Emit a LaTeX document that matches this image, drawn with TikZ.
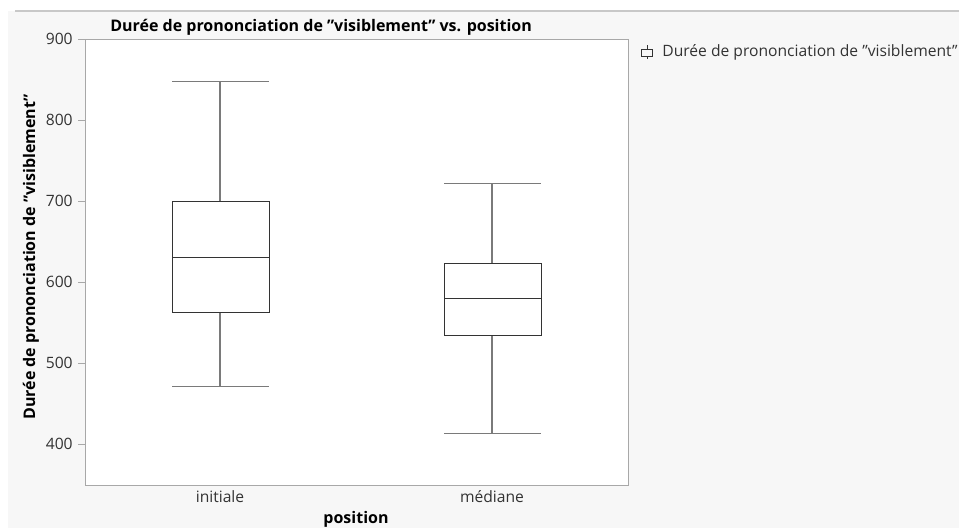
\documentclass[tikz,border=0pt]{standalone}
\usepackage{fontspec}
\setmainfont{Open Sans}
\usepackage{tikz}
\usetikzlibrary{positioning, calc}
\definecolor{panel}{HTML}{F7F7F7}
\definecolor{rulegray}{HTML}{C8C8C8}
\definecolor{framegray}{HTML}{A8A8A8}
\definecolor{whisk}{HTML}{7A7A7A}
\definecolor{inkgray}{HTML}{333333}
\newcommand{\qt}{\symbol{34}}

\begin{document}
\begin{tikzpicture}[
  x=0.02cm, y=-0.02cm,
  tick/.style={font=\fontsize{8.9}{10}\selectfont, text=inkgray, anchor=east, inner sep=0pt},
  cat/.style={font=\fontsize{8.9}{10}\selectfont, text=inkgray, inner sep=0pt},
  axlabel/.style={font=\bfseries\fontsize{9.1}{10}\selectfont, text=black, inner sep=0pt},
  whisker/.style={draw=whisk, line width=0.6pt},
  boxline/.style={draw=black!80, line width=0.5pt},
]

% page and panel
\useasboundingbox (0,0) rectangle (959,528);
\fill[panel] (8,11) rectangle (959,528);
\draw[rulegray, line width=0.6pt] (15,11) -- (959,11);

% plot frame
\filldraw[fill=white, draw=framegray, line width=0.5pt] (85,39) rectangle (628,485);

% y axis ticks
\foreach \v/\py in {900/39, 800/120, 700/201, 600/282, 500/363, 400/444} {
  \draw[framegray, line width=0.5pt] (78,\py) -- (85,\py);
  \node[tick] (t\v) at (73,\py) {\v};
}

% data: value v sits at pixel 768-0.81v
\begin{scope}[shift={(0,768)}, yscale=-0.81]
  % initiale
  \draw[whisker] (220,471) -- (220,563) (220,700) -- (220,848);
  \draw[whisker] (172,471) -- (269,471) (172,848) -- (269,848);
  \draw[boxline] (172,563) rectangle (269,700);
  \draw[boxline] (172,630) -- (269,630);
  % mediane
  \draw[whisker] (492,413.5) -- (492,534.5) (492,623.5) -- (492,722);
  \draw[whisker] (444,413.5) -- (541,413.5) (444,722) -- (541,722);
  \draw[boxline] (444,534.5) rectangle (541,623.5);
  \draw[boxline] (444,580) -- (541,580);
\end{scope}

% texts
\node[axlabel, anchor=west] (title) at (110,27) {Durée de prononciation de \qt visiblement\qt{} vs. position};
\node[cat] (initiale) at (220,497) {initiale};
\node[cat] (mediane) at (492,497) {médiane};
\node[axlabel] (xlab) at (356,519) {position};
\node[axlabel, rotate=90] (ylab) at (31,257) {Durée de prononciation de \qt visiblement\qt};

% legend
\draw[black!80, line width=0.5pt] (641.5,49) rectangle (652.5,56);
\draw[black!80, line width=0.5pt] (647,45) -- (647,49) (647,56) -- (647,59);
\node[cat, anchor=west] (legend) at (662,52) {Durée de prononciation de \qt visiblement\qt};

\end{tikzpicture}
\end{document}
